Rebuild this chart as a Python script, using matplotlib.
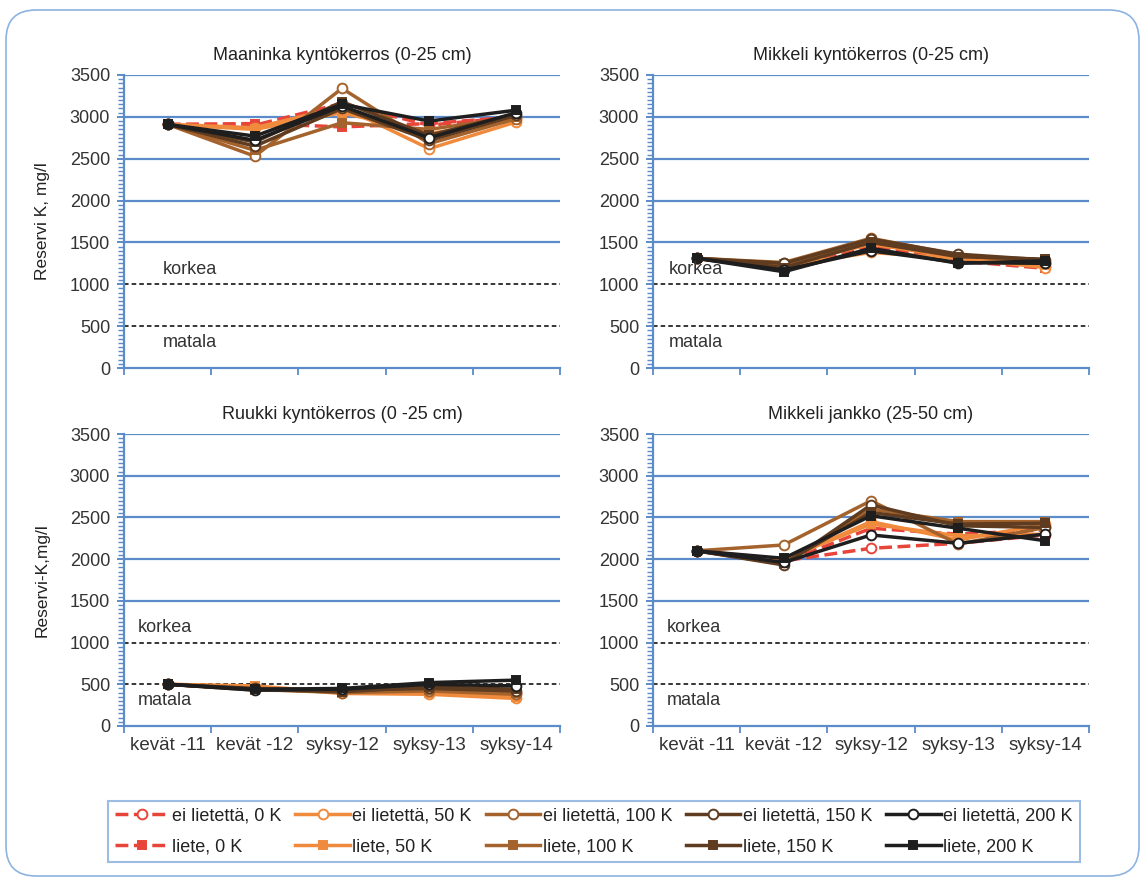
import numpy as np
import matplotlib.pyplot as plt
from matplotlib.lines import Line2D
from matplotlib.patches import FancyBboxPatch
from matplotlib.ticker import MultipleLocator

plt.rcParams['font.family'] = ['Liberation Sans', 'DejaVu Sans']

categories = ['kevät -11', 'kevät -12', 'syksy-12', 'syksy-13', 'syksy-14']

series_labels = ['ei lietettä, 0 K', 'liete, 0 K',
                 'ei lietettä, 50 K', 'liete, 50 K',
                 'ei lietettä, 100 K', 'liete, 100 K',
                 'ei lietettä, 150 K', 'liete, 150 K',
                 'ei lietettä, 200 K', 'liete, 200 K']

maaninka = [
    [2910, 2900, 3160, 2900, 3000],
    [2910, 2920, 2880, 2920, 3000],
    [2910, 2870, 3120, 2620, 2940],
    [2910, 2850, 3050, 2800, 2960],
    [2910, 2530, 3340, 2680, 2980],
    [2910, 2600, 2930, 2850, 3000],
    [2910, 2650, 3100, 2720, 3020],
    [2910, 2700, 3180, 2780, 3040],
    [2910, 2720, 3130, 2750, 3050],
    [2910, 2770, 3150, 2950, 3080],
]

mikkeli = [
    [1310, 1200, 1450, 1300, 1220],
    [1310, 1190, 1420, 1280, 1190],
    [1310, 1220, 1380, 1310, 1200],
    [1310, 1230, 1480, 1320, 1230],
    [1310, 1260, 1550, 1350, 1260],
    [1310, 1240, 1520, 1340, 1280],
    [1310, 1250, 1540, 1360, 1290],
    [1310, 1200, 1500, 1330, 1300],
    [1310, 1170, 1400, 1260, 1250],
    [1310, 1150, 1430, 1250, 1280],
]

ruukki = [
    [500, 450, 420, 420, 400],
    [500, 440, 410, 400, 380],
    [500, 470, 390, 380, 330],
    [500, 480, 400, 390, 350],
    [500, 440, 400, 420, 380],
    [500, 430, 420, 430, 400],
    [500, 450, 430, 450, 420],
    [500, 440, 410, 470, 440],
    [500, 430, 440, 500, 480],
    [500, 440, 450, 520, 550],
]

mikkeli_jankko = [
    [2100, 1980, 2130, 2190, 2290],
    [2100, 1960, 2370, 2300, 2350],
    [2100, 1990, 2450, 2230, 2420],
    [2100, 2000, 2420, 2280, 2300],
    [2100, 2170, 2700, 2180, 2380],
    [2100, 1940, 2600, 2450, 2450],
    [2100, 1930, 2650, 2400, 2380],
    [2100, 1950, 2560, 2420, 2430],
    [2100, 1960, 2290, 2190, 2300],
    [2100, 2010, 2520, 2370, 2220],
]

titles = ['Maaninka kyntökerros (0-25 cm)', 'Mikkeli kyntökerros (0-25 cm)',
          'Ruukki kyntökerros (0 -25 cm)', 'Mikkeli jankko (25-50 cm)']
ylabels = ['Reservi K, mg/l', None, 'Reservi-K,mg/l', None]
korkea_level = 1000
matala_level = 500

colors = ['#E8453A', '#E8453A', '#F08A3C', '#F08A3C', '#A4622C', '#A4622C',
          '#5F3B1F', '#5F3B1F', '#1E1E1E', '#1E1E1E']
blue = '#5B8BC9'

fig = plt.figure(figsize=(11.45, 8.8), dpi=100)
fig.patch.set_facecolor('white')

frame = FancyBboxPatch((0.06, 0.04), 11.33, 8.66, boxstyle='round,pad=0,rounding_size=0.3',
                       transform=fig.dpi_scale_trans, fc='none', ec='#8DB3E0', lw=1.2)
fig.patches.append(frame)

W, H = 1145, 880
boxes = [(124, 75, 560, 368), (653, 75, 1089, 368),
         (124, 434, 560, 726), (653, 434, 1089, 726)]
text_x = [-0.05, -0.32, -0.34, -0.34]
datasets = [maaninka, mikkeli, ruukki, mikkeli_jankko]

x = np.arange(len(categories))
for i, (x0, y0, x1, y1) in enumerate(boxes):
    ax = fig.add_axes([x0 / W, 1 - y1 / H, (x1 - x0) / W, (y1 - y0) / H])
    for lev in range(1500, 3501, 500):
        ax.axhline(lev, color=blue, lw=1.6, zorder=1)
    ax.axhline(korkea_level, color='black', ls='--', lw=1.1, dashes=(3, 2), zorder=1)
    ax.axhline(matala_level, color='black', ls='--', lw=1.1, dashes=(3, 2), zorder=1)
    for k, vals in enumerate(datasets[i]):
        ei = k % 2 == 0
        ls = '--' if k < 2 else '-'
        ax.plot(x, vals, color=colors[k], ls=ls, lw=2.5,
                marker='o' if ei else 's', ms=7 if ei else 6,
                mfc='white' if ei else colors[k], mec=colors[k], mew=1.4, zorder=3)
    ax.text(text_x[i], korkea_level + 180, 'korkea', fontsize=13, color='#333333', va='center')
    ax.text(text_x[i], matala_level - 200, 'matala', fontsize=13, color='#333333', va='center')

    ax.set_xlim(-0.5, 4.5)
    ax.set_ylim(0, 3500)
    ax.yaxis.set_major_locator(MultipleLocator(500))
    ax.yaxis.set_minor_locator(MultipleLocator(50))
    ax.set_xticks(np.arange(-0.5, 4.6, 1))
    ax.set_xticklabels([])
    if i >= 2:
        ax.set_xticks(x, minor=True)
        ax.set_xticklabels(categories, minor=True, fontsize=13.5, color='#333333')
    ax.tick_params(axis='x', which='major', length=5, color=blue, width=1.3)
    ax.tick_params(axis='x', which='minor', length=0, pad=8)
    ax.tick_params(axis='y', which='major', length=5, color=blue, width=1.4,
                   labelsize=13, labelcolor='#333333', pad=5)
    ax.tick_params(axis='y', which='minor', length=4.5, color=blue, width=1.0, left=True)
    for s in ['top', 'right']:
        ax.spines[s].set_visible(False)
    for s in ['left', 'bottom']:
        ax.spines[s].set_color(blue)
        ax.spines[s].set_linewidth(1.6)
    ax.set_title(titles[i], fontsize=13, color='#222222', pad=11)
    if ylabels[i]:
        ax.set_ylabel(ylabels[i], fontsize=12.5, color='#222222')
        ax.yaxis.set_label_coords(-0.17, 0.5)
    ax.set_facecolor('none')

handles = []
for k in range(10):
    ei = k % 2 == 0
    handles.append(Line2D([], [], color=colors[k], ls='--' if k < 2 else '-', lw=2.5,
                          marker='o' if ei else 's', ms=7 if ei else 6,
                          mfc='white' if ei else colors[k], mec=colors[k], mew=1.4))
leg = fig.legend(handles, series_labels, ncol=5, loc='center', mode='expand',
                 bbox_to_anchor=(108 / W, 1 - 868 / H, 972 / W, 73 / H),
                 fontsize=13, handlelength=3.0, handletextpad=0.15, columnspacing=0.5,
                 labelspacing=0.75, fancybox=False, framealpha=1, borderaxespad=0)
leg.get_frame().set_edgecolor('#9DBCE3')
leg.get_frame().set_linewidth(1.5)
for t in leg.get_texts():
    t.set_color('#222222')

fig.savefig('out.png', dpi=100)
